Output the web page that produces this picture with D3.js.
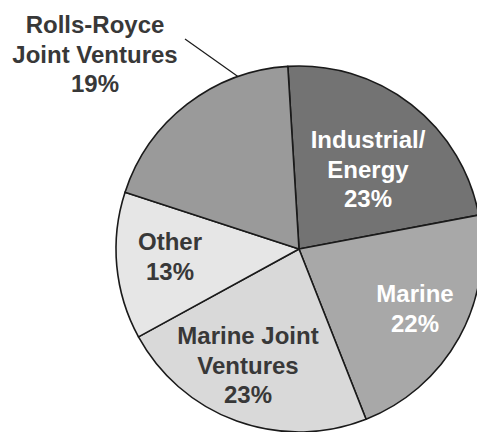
<!DOCTYPE html>
<html>
<head>
<meta charset="utf-8">
<script src="https://cdn.jsdelivr.net/npm/d3@7"></script>
<style>
  html, body { margin: 0; padding: 0; background: #fff; }
  svg { display: block; }
  text { font-family: "Liberation Sans", Arial, sans-serif; font-weight: bold; }
</style>
</head>
<body>
<svg id="chart" width="477" height="432"></svg>
<script>
// Revenue split by business segment
const categories = ["Industrial/Energy", "Marine", "Marine Joint Ventures", "Other", "Rolls-Royce Joint Ventures"];
const shares = [23, 22, 23, 13, 19];
const labelLines = [
  ["Industrial/", "Energy", "23%"],
  ["Marine", "22%"],
  ["Marine Joint", "Ventures", "23%"],
  ["Other", "13%"],
  ["Rolls-Royce", "Joint Ventures", "19%"]
];

const fills = ["#737373", "#a8a8a8", "#d9d9d9", "#e6e6e6", "#9a9a9a"];
const textFills = ["#ffffff", "#ffffff", "#383838", "#383838", "#383838"];

// label block anchors (x of centre, y of first baseline), relative to the pie centre
const labelAnchor = [
  { dx: 69, dy: -101 },
  { dx: 116, dy: 53 },
  { dx: -51, dy: 95 },
  { dx: -129, dy: 1 },
  { dx: -204, dy: -216 }
];
const lineHeight = 29.5;

const width = 477, height = 432;
const cx = 299, cy = 249, radius = 183;
const start = -3.5 * Math.PI / 180;

const svg = d3.select("#chart");
const g = svg.append("g").attr("transform", `translate(${cx},${cy})`);

const pie = d3.pie().sort(null).value(d => d).startAngle(start).endAngle(start + 2 * Math.PI);
const arcs = pie(shares);
const arc = d3.arc().innerRadius(0).outerRadius(radius);

g.selectAll("path.slice")
  .data(arcs)
  .join("path")
  .attr("class", "slice")
  .attr("d", arc)
  .attr("fill", (d, i) => fills[i])
  .attr("stroke", "#1a1a1a")
  .attr("stroke-width", 1.6)
  .attr("stroke-linejoin", "round");

// leader line from the outside label to the Rolls-Royce JV slice edge
const leaderAngle = 340.5 * Math.PI / 180;
const edge = [radius * Math.sin(leaderAngle), -radius * Math.cos(leaderAngle)];
const rr = labelAnchor[4];
const outer = [rr.dx + 90, rr.dy + 6];
g.append("line")
  .attr("x1", outer[0]).attr("y1", outer[1])
  .attr("x2", edge[0]).attr("y2", edge[1])
  .attr("stroke", "#1a1a1a")
  .attr("stroke-width", 1.2);

const labels = g.selectAll("text.lbl")
  .data(arcs)
  .join("text")
  .attr("class", "lbl")
  .attr("text-anchor", "middle")
  .attr("font-size", 24)
  .attr("fill", (d, i) => textFills[i])
  .attr("x", (d, i) => labelAnchor[i].dx)
  .attr("y", (d, i) => labelAnchor[i].dy);

labels.selectAll("tspan")
  .data((d, i) => labelLines[i].map(t => ({ t, i })))
  .join("tspan")
  .attr("x", d => labelAnchor[d.i].dx)
  .attr("dy", (d, j) => j === 0 ? 0 : lineHeight)
  .text(d => d.t);
</script>
</body>
</html>
